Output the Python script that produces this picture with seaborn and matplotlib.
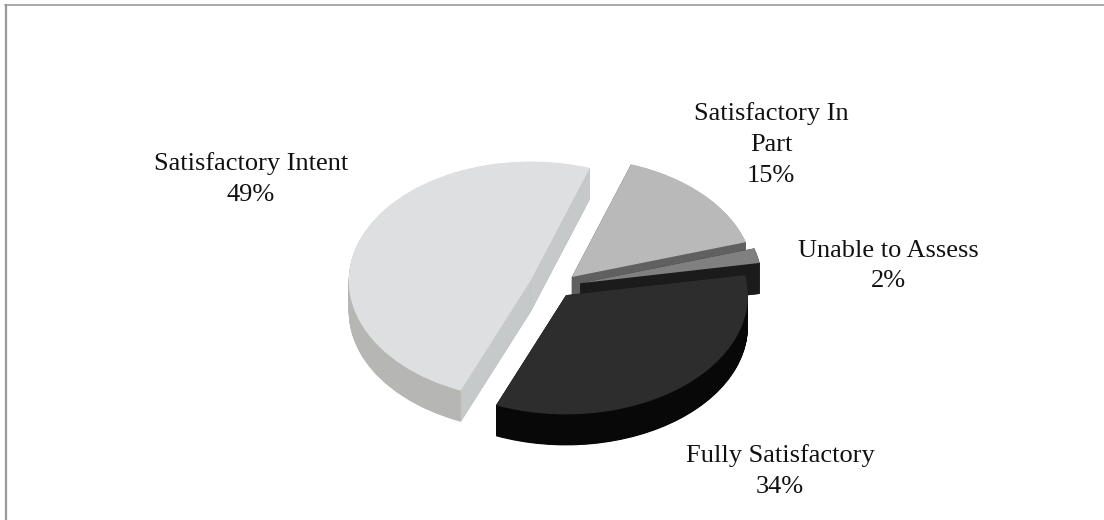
import matplotlib
matplotlib.use("Agg")
import matplotlib.pyplot as plt
import numpy as np
import seaborn as sns
from matplotlib.lines import Line2D
from matplotlib.patches import Polygon, Wedge

# Shares of each rating, in drawing order around the pie
categories = ["Satisfactory Intent", "Fully Satisfactory", "Unable to Assess", "Satisfactory In\nPart"]
values = [49, 34, 2, 15]
explode = [27, 16, 25, 22]
top_colors = ["#dddfe0", "#2d2d2d", "#808080", "#b9b9b9"]
side_colors = ["#b6b6b4", "#080808", "#1b1b1b", "#606060"]
cut_colors = ["#c6c9c9", "#080808", "#1b1b1b", "#606060"]
label_pos = [(251, 179), (780, 471), (888, 266), (771, 144.5)]
paint_order = [3, 2, 0, 1]

W, H = 1104, 520
SQUASH = 0.655
RADIUS = 182
DEPTH = 31
CENTER_PX = (556, 287)


def to_data(px, py):
    """Convert figure pixels (origin top left) to squashed data units."""
    return px, (H - py) / SQUASH


sns.set_theme(style="white")
fig = plt.figure(figsize=(W / 100, H / 100), dpi=100, facecolor="white")
ax = fig.add_axes([0, 0, 1, 1])

wedges, _ = ax.pie(
    values,
    explode=explode,
    colors=sns.color_palette(top_colors),
    startangle=71,
    counterclock=True,
    radius=RADIUS,
    center=to_data(*CENTER_PX),
    wedgeprops={"linewidth": 0},
)
ax.set_aspect("auto")
ax.set_xlim(0, W)
ax.set_ylim(0, H / SQUASH)

# Extrude each wedge downward, back slices first, then lay its top face over it
for rank, i in enumerate(paint_order):
    w = wedges[i]
    cx, cy = w.center
    base = rank * 10 + 1
    for d in np.arange(DEPTH, 0, -0.5):
        ax.add_patch(Wedge((cx, cy - d / SQUASH), w.r, w.theta1, w.theta2,
                           fc=side_colors[i], ec="none", lw=0, zorder=base))
    # Flat cut faces along the two straight edges
    for theta in (w.theta1, w.theta2):
        ex = cx + w.r * np.cos(np.radians(theta))
        ey = cy + w.r * np.sin(np.radians(theta))
        drop = DEPTH / SQUASH
        ax.add_patch(Polygon([(cx, cy), (ex, ey), (ex, ey - drop), (cx, cy - drop)],
                             closed=True, fc=cut_colors[i], ec="none", lw=0, zorder=base + 1))
    w.set_zorder(base + 2)

# Rating name and share beside each slice
for name, val, (lx, ly) in zip(categories, values, label_pos):
    x, y = to_data(lx, ly)
    ax.text(x, y, f"{name}\n{val}%", ha="center", va="center", color="#111111",
            family="Liberation Serif", fontsize=19, linespacing=1.52, zorder=100)

# Gray outline of the chart area
fig.add_artist(Line2D((6 / W, 6 / W), (0, 1 - 4.5 / H), color="#9a9a9a", lw=1.6))
fig.add_artist(Line2D((5 / W, 1), (1 - 4.5 / H, 1 - 4.5 / H), color="#9a9a9a", lw=1.2))

fig.savefig("out.png", dpi=100, facecolor="white")
